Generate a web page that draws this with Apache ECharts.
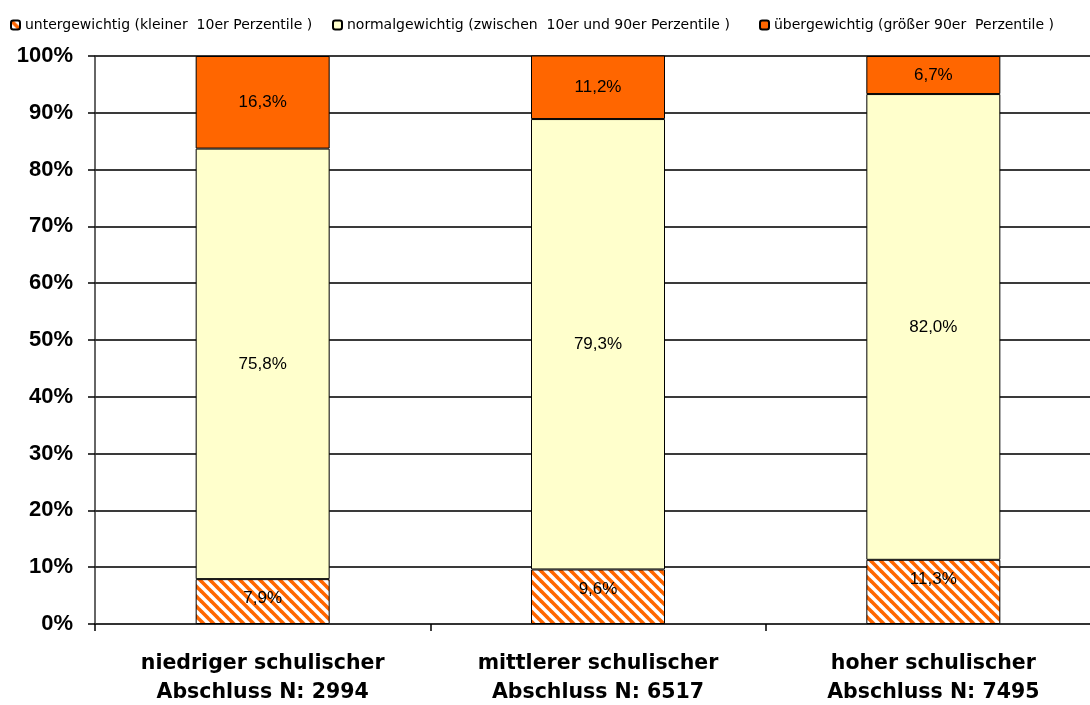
<!DOCTYPE html>
<html>
<head>
<meta charset="utf-8">
<script src="https://cdn.jsdelivr.net/npm/echarts@6/dist/echarts.min.js"></script>
<style>
  html, body { margin: 0; padding: 0; background: #fff; }
  #chart { width: 1090px; height: 705px; }
</style>
</head>
<body>
<div id="chart"></div>
<script>
// Categories (school leaving level, sample size)
const categories = [
  'niedriger schulischer\nAbschluss N: 2994',
  'mittlerer schulischer\nAbschluss N: 6517',
  'hoher schulischer\nAbschluss N: 7495'
];
const seriesNames = [
  'untergewichtig (kleiner  10er Perzentile )',
  'normalgewichtig (zwischen  10er und 90er Perzentile )',
  'übergewichtig (größer 90er  Perzentile )'
];
// Shares in percent
const untergewichtig = [7.9, 9.6, 11.3];
const normalgewichtig = [75.8, 79.3, 82.0];
const uebergewichtig = [16.3, 11.2, 6.7];
const yTicks = [0, 10, 20, 30, 40, 50, 60, 70, 80, 90, 100];

// Diagonal orange/white stripe fill
function makeHatch() {
  const s = 10;
  const c = document.createElement('canvas');
  c.width = s; c.height = s;
  const g = c.getContext('2d');
  g.fillStyle = '#ffffff';
  g.fillRect(0, 0, s, s);
  g.strokeStyle = '#ff6600';
  g.lineWidth = 3.6;
  for (let k = -1; k <= 1; k++) {
    g.beginPath();
    g.moveTo(k * s - 2, -2);
    g.lineTo(k * s + s + 2, s + 2);
    g.stroke();
  }
  return c;
}

const fmt = p => String(p.value.toFixed(1)).replace('.', ',') + '%';
const labelFont = { color: '#000', fontFamily: 'Arial, Liberation Sans, sans-serif', fontSize: 17 };
const labelCenter = Object.assign({ show: true, position: 'inside', formatter: fmt }, labelFont);
const labelTop = Object.assign({ show: true, position: 'insideTop', distance: 11, formatter: fmt }, labelFont);
const border = { borderColor: '#000', borderWidth: 1 };

const chart = echarts.init(document.getElementById('chart'), null, { renderer: 'canvas' });
const legendText = { fontFamily: 'DejaVu Sans, sans-serif', fontSize: 14, color: '#000' };
const legendBase = { top: 18, itemWidth: 9, itemHeight: 9, itemGap: 4, textStyle: legendText, padding: 0 };

chart.setOption({
  animation: false,
  backgroundColor: '#fff',
  legend: [
    Object.assign({ left: 10, data: [seriesNames[0]] }, legendBase),
    Object.assign({ left: 332, data: [seriesNames[1]] }, legendBase),
    Object.assign({ left: 759, data: [seriesNames[2]] }, legendBase)
  ],
  grid: { left: 95, top: 56, width: 1006, height: 568, containLabel: false, outerBoundsMode: 'none' },
  xAxis: {
    type: 'category',
    data: categories,
    axisLine: { lineStyle: { color: '#333', width: 2 } },
    axisTick: { show: true, length: 7, lineStyle: { color: '#000', width: 1.5 } },
    axisLabel: {
      margin: 25, interval: 0,
      fontFamily: 'DejaVu Sans, sans-serif', fontWeight: 'bold',
      fontSize: 20.5, lineHeight: 29, color: '#000'
    }
  },
  yAxis: {
    type: 'value', min: 0, max: 100, interval: 10,
    axisLine: { show: true, lineStyle: { color: '#333', width: 1.5 } },
    axisTick: { show: true, length: 7, lineStyle: { color: '#000', width: 1.5 } },
    splitLine: { show: true, lineStyle: { color: '#3a3a3a', width: 2 } },
    axisLabel: {
      margin: 22,
      formatter: v => yTicks.includes(v) ? v + '%' : '',
      fontFamily: 'Arial, Liberation Sans, sans-serif', fontWeight: 'bold',
      fontSize: 22, color: '#000'
    }
  },
  series: [
    {
      name: seriesNames[0], type: 'bar', stack: 'all', barWidth: 134,
      data: untergewichtig,
      itemStyle: Object.assign({ color: { image: makeHatch(), repeat: 'repeat' } }, border),
      label: labelTop
    },
    {
      name: seriesNames[1], type: 'bar', stack: 'all', barWidth: 134,
      data: normalgewichtig,
      itemStyle: Object.assign({ color: '#ffffcc' }, border),
      label: labelCenter
    },
    {
      name: seriesNames[2], type: 'bar', stack: 'all', barWidth: 134,
      data: uebergewichtig,
      itemStyle: Object.assign({ color: '#ff6600' }, border),
      label: labelCenter
    }
  ]
});
</script>
</body>
</html>
